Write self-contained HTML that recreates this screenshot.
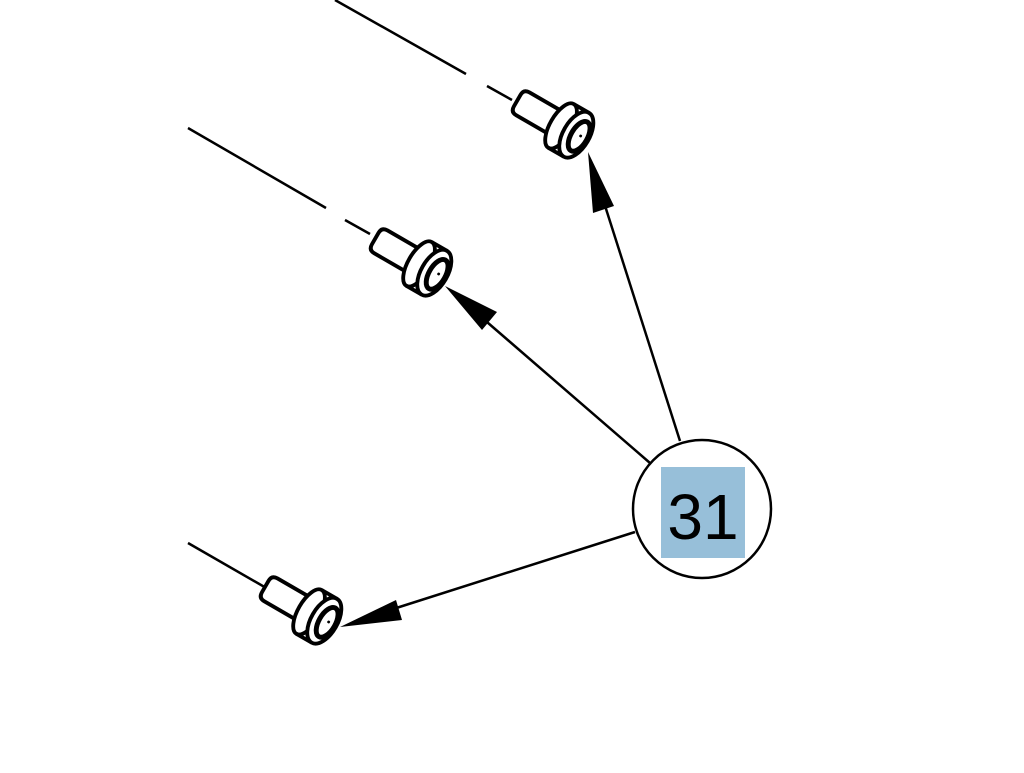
<!DOCTYPE html>
<html><head><style>body{margin:0;background:#fff}</style></head><body>
<svg width="1024" height="768" viewBox="0 0 1024 768" xmlns="http://www.w3.org/2000/svg">
<defs>
<g id="bolt">
  <path d="M-28,-12 L-62,-12 Q-68,-12 -68,-6 L-68,6 Q-68,12 -62,12 L-28,12" fill="#fff" stroke="#000" stroke-width="3.5"/>
  <path d="M-22,-23 L-6,-23 L-6,23 L-22,23 Z" fill="#fff" stroke="none"/>
  <ellipse cx="-22" cy="0" rx="10" ry="23" fill="#fff" stroke="#000" stroke-width="3.5"/>
  <path d="M-22,-23 L-6,-23 M-22,23 L-6,23" stroke="#000" stroke-width="3.5"/>
  <ellipse cx="-6" cy="0" rx="12" ry="23" fill="#fff" stroke="#000" stroke-width="3.5"/>
  <ellipse cx="-3" cy="0" rx="7.5" ry="15" fill="#fff" stroke="#000" stroke-width="4.5"/>
  <circle cx="-2" cy="-1" r="1.3" fill="#000"/>
</g>
</defs>
<g stroke="#000" stroke-width="2.5" fill="none">
  <line x1="335" y1="0" x2="466" y2="74"/>
  <line x1="487" y1="86" x2="512" y2="100"/>
  <line x1="188" y1="128" x2="326" y2="208"/>
  <line x1="345" y1="220" x2="370" y2="234"/>
  <line x1="188" y1="543" x2="268" y2="589"/>
  <line x1="680" y1="441" x2="600" y2="190"/>
  <line x1="650" y1="463" x2="480" y2="316"/>
  <line x1="635" y1="532" x2="390" y2="610"/>
</g>
<use href="#bolt" transform="translate(582,138) rotate(30) scale(1.1)"/>
<use href="#bolt" transform="translate(440,276) rotate(30) scale(1.1)"/>
<use href="#bolt" transform="translate(330,624) rotate(30) scale(1.1)"/>
<g fill="#000">
  <polygon points="588,152 614,206 593,213"/>
  <polygon points="445,286 497,312 482,330"/>
  <polygon points="340,627 396,600 402,620"/>
</g>
<circle cx="702" cy="509" r="69" fill="#fff" stroke="#000" stroke-width="2.5"/>
<rect x="661" y="467" width="84" height="91" fill="#97bfd9"/>
<text x="703" y="539" font-family="Liberation Sans, sans-serif" font-size="64" text-anchor="middle" fill="#000">31</text>
</svg>
</body></html>
